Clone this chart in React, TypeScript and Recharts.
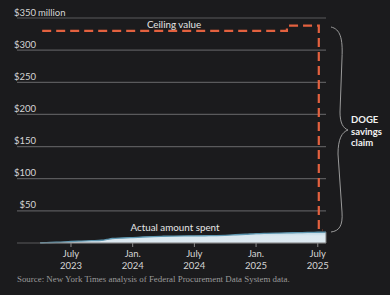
import React from "react";
import {
  ComposedChart,
  Area,
  Line,
  XAxis,
  YAxis,
  CartesianGrid,
  ReferenceLine,
} from "recharts";

// month index: 0 = Jan 2023
const spentMonths = [3, 4, 5, 6, 7, 8, 9, 9.5, 10, 11, 12, 13, 14, 15, 16, 17, 18, 19, 20, 21, 22, 23, 24, 25, 26, 27, 28, 29, 30, 30.8];
const spentValues = [0.3, 0.8, 1.5, 2.3, 3, 3.6, 4.3, 5.5, 7, 7.8, 8.5, 9.3, 10, 10.5, 10.8, 11, 11.2, 11.3, 11.5, 12, 12.8, 13.6, 14.5, 15, 15.4, 15.8, 16.1, 16.4, 16.7, 16.8];

const ceilingMonths = [3.2, 27, 27, 30.1, 30.1, 30.5];
const ceilingValues = [330, 330, 338, 338, 20, 20];

const xTicks = [6, 12, 18, 24, 30];
const xTickLabels = [["July", "2023"], ["Jan.", "2024"], ["July", "2024"], ["Jan.", "2025"], ["July", "2025"]];
const yTicks = [50, 100, 150, 200, 250, 300, 350];

const spentData = spentMonths.map((m, i) => ({ m, spent: spentValues[i] }));
const ceilingData = ceilingMonths.map((m, i) => ({ m, ceiling: ceilingValues[i] }));

const BG = "#1b1b1d";
const SANS = "Lato, 'Noto Sans', sans-serif";

const XTick = (props: any) => {
  const { x, y, payload } = props;
  const idx = xTicks.indexOf(payload.value);
  const lab = xTickLabels[idx] || ["", ""];
  return (
    <g>
      <text x={x} y={y + 9.5} textAnchor="middle" fill="#d6d6d6" fontSize={9.5} fontFamily={SANS}>
        {lab[0]}
      </text>
      <text x={x} y={y + 22} textAnchor="middle" fill="#d6d6d6" fontSize={9.5} fontFamily={SANS}>
        {lab[1]}
      </text>
    </g>
  );
};

const YTick = (props: any) => {
  const { y, payload } = props;
  const v = payload.value;
  return (
    <g>
      <text x={36} y={y - 2.5} textAnchor="end" fill="#d6d6d6" fontSize={9.5} fontFamily={SANS}>
        {"$" + v}
      </text>
      {v === 350 ? (
        <text x={38} y={y - 2.5} textAnchor="start" fill="#d6d6d6" fontSize={9.5} fontFamily={SANS}>
          million
        </text>
      ) : null}
    </g>
  );
};

export default function App() {
  return (
    <div style={{ position: "absolute", left: 0, top: 0, width: 390, height: 295, background: BG, overflow: "hidden" }}>
      <ComposedChart width={390} height={295} margin={{ top: 18, right: 64, bottom: 22, left: 7 }}>
        <defs>
          <linearGradient id="spentFill" x1="0" y1="0" x2="0" y2="1">
            <stop offset="0%" stopColor="#bcd6e3" />
            <stop offset="35%" stopColor="#dbe8ef" />
            <stop offset="100%" stopColor="#dde9f0" />
          </linearGradient>
        </defs>
        <CartesianGrid horizontal vertical={false} stroke="#5a5a5c" strokeWidth={1.2} />
        <XAxis
          type="number"
          dataKey="m"
          domain={[0.75, 30.8]}
          ticks={xTicks}
          allowDataOverflow
          axisLine={false}
          tickLine={{ stroke: "#8a8a8a" }}
          tickSize={4}
          tickMargin={0}
          height={30}
          tick={<XTick />}
          interval={0}
        />
        <YAxis
          type="number"
          domain={[0, 350]}
          ticks={yTicks}
          width={10}
          axisLine={false}
          tickLine={false}
          tick={<YTick />}
          interval={0}
        />
        <Area
          data={spentData}
          dataKey="spent"
          type="monotone"
          stroke="#5f97b0"
          strokeWidth={1.3}
          fill="url(#spentFill)"
          fillOpacity={1}
          isAnimationActive={false}
          dot={false}
          activeDot={false}
        />
        <ReferenceLine
          segment={[{ x: 3, y: 0 }, { x: 30.8, y: 0 }]}
          stroke="#7a7a7a"
          strokeWidth={1.2}
        />
        <ReferenceLine
          segment={[{ x: 30.8, y: 0 }, { x: 30.8, y: 16.8 }]}
          stroke="#7a7a7a"
          strokeWidth={1}
        />
        <Line
          data={ceilingData}
          dataKey="ceiling"
          type="linear"
          stroke="#e3613f"
          strokeWidth={2.2}
          strokeDasharray="9 5"
          dot={false}
          activeDot={false}
          isAnimationActive={false}
        />
      </ComposedChart>
      <svg width={390} height={295} style={{ position: "absolute", left: 0, top: 0, pointerEvents: "none" }}>
        <text x={174} y={28} textAnchor="middle" fill="#e6e6e6" fontSize={9.8} fontFamily={SANS}>
          Ceiling value
        </text>
        <text x={175} y={231} textAnchor="middle" fill="#e6e6e6" fontSize={9.8} fontFamily={SANS}>
          Actual amount spent
        </text>
        <path
          d="M331,27 C340,29 343,38 342,58 L340,112 C340,123 343,128 348,130 C342,132 338,139 338,154 L342,212 C343,226 339,231 331,232"
          fill="none"
          stroke="#9a9a9a"
          strokeWidth={1}
        />
        <text fill="#f2f2f2" fontSize={9.5} fontWeight="bold" fontFamily={SANS}>
          <tspan x={351} y={123}>DOGE</tspan>
          <tspan x={351} y={134.5}>savings</tspan>
          <tspan x={351} y={146}>claim</tspan>
        </text>
        <text x={17} y={282} fill="#9a9a9a" fontSize={8.9} fontFamily="'Liberation Serif', 'DejaVu Serif', serif">
          Source: New York Times analysis of Federal Procurement Data System data.
        </text>
      </svg>
    </div>
  );
}
